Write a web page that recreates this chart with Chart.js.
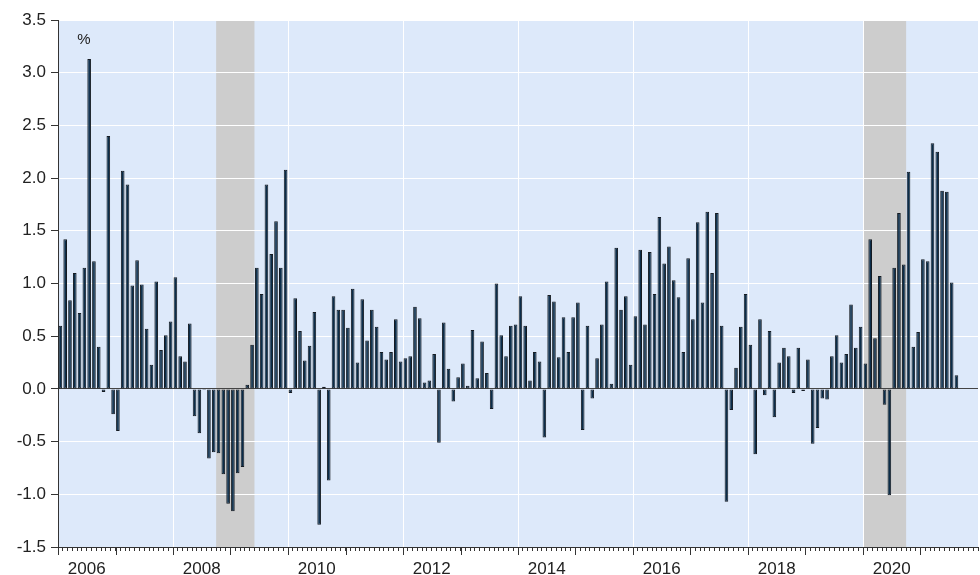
<!DOCTYPE html>
<html>
<head>
<meta charset="utf-8">
<script src="https://cdn.jsdelivr.net/npm/chart.js@4.4.1/dist/chart.umd.min.js"></script>
<style>
  html, body { margin: 0; padding: 0; background: #fff; }
  #wrap { width: 980px; height: 575px; position: relative; }
</style>
</head>
<body>
<div id="wrap"><canvas id="grafica"></canvas></div>
<script>
// Variacion mensual (%), ene-2006 a ago-2021, con periodos de recesion sombreados

const firstYear = 2006;
const lastYear = 2021;
const yearLabels = ['2006', '2008', '2010', '2012', '2014', '2016', '2018', '2020'];
const yMin = -1.5;
const yMax = 3.5;
const yStep = 0.5;

const values = [
  0.60, 1.42, 0.84, 1.10, 0.72, 1.15, 3.13, 1.21, 0.40, -0.03, 2.40, -0.24,
  -0.40, 2.07, 1.94, 0.98, 1.22, 0.99, 0.57, 0.23, 1.02, 0.37, 0.51, 0.64,
  1.06, 0.31, 0.26, 0.62, -0.26, -0.42, -0.01, -0.66, -0.60, -0.61, -0.81, -1.09,
  -1.16, -0.80, -0.74, 0.04, 0.42, 1.15, 0.90, 1.94, 1.28, 1.59, 1.15, 2.08,
  -0.04, 0.86, 0.55, 0.27, 0.41, 0.73, -1.29, 0.02, -0.87, 0.88, 0.75, 0.75,
  0.58, 0.95, 0.25, 0.85, 0.46, 0.75, 0.59, 0.35, 0.28, 0.35, 0.66, 0.26,
  0.29, 0.31, 0.78, 0.67, 0.06, 0.08, 0.33, -0.51, 0.63, 0.19, -0.12, 0.11,
  0.24, 0.03, 0.56, 0.10, 0.45, 0.15, -0.19, 1.00, 0.51, 0.31, 0.60, 0.61,
  0.88, 0.60, 0.08, 0.35, 0.26, -0.46, 0.89, 0.83, 0.30, 0.68, 0.35, 0.68,
  0.82, -0.39, 0.60, -0.09, 0.29, 0.61, 1.02, 0.05, 1.34, 0.75, 0.88, 0.23,
  0.69, 1.32, 0.61, 1.30, 0.90, 1.63, 1.19, 1.35, 1.03, 0.87, 0.35, 1.24,
  0.66, 1.58, 0.82, 1.68, 1.10, 1.67, 0.60, -1.07, -0.20, 0.20, 0.59, 0.90,
  0.42, -0.62, 0.66, -0.06, 0.55, -0.27, 0.25, 0.39, 0.31, -0.04, 0.39, -0.02,
  0.28, -0.52, -0.37, -0.09, -0.10, 0.31, 0.51, 0.25, 0.33, 0.80, 0.39, 0.59,
  0.24, 1.42, 0.48, 1.07, -0.15, -1.01, 1.15, 1.67, 1.18, 2.06, 0.40, 0.54,
  1.23, 1.21, 2.33, 2.25, 1.88, 1.87, 1.01, 0.13
];

const recessionStart = ['2008-10', '2020-01'];
const recessionEnd = ['2009-05', '2020-09'];

// etiquetas mensuales del eje
const months = [];
for (let y = firstYear; y <= lastYear; y++) {
  for (let m = 1; m <= 12; m++) {
    months.push(y + '-' + String(m).padStart(2, '0'));
  }
}

Chart.defaults.font.family = '"Liberation Sans", Arial, sans-serif';
Chart.defaults.font.size = 17;
Chart.defaults.color = '#222';

const AXIS = '#333';

// fondo azul y sombreado de recesiones (antes de la rejilla)
const fondo = {
  id: 'fondo',
  beforeDraw(chart) {
    const ctx = chart.ctx;
    const a = chart.chartArea;
    const x = chart.scales.x;
    const half = (x.getPixelForValue(1) - x.getPixelForValue(0)) / 2;
    ctx.save();
    ctx.fillStyle = '#dde9fa';
    ctx.fillRect(a.left, a.top, a.right - a.left, a.bottom - a.top);
    ctx.fillStyle = '#cdcdcd';
    for (let i = 0; i < recessionStart.length; i++) {
      const x0 = x.getPixelForValue(months.indexOf(recessionStart[i])) - half;
      const x1 = x.getPixelForValue(months.indexOf(recessionEnd[i])) + half;
      ctx.fillRect(x0, a.top, x1 - x0, a.bottom - a.top);
    }
    ctx.restore();
  },
  afterDraw(chart) {
    const ctx = chart.ctx;
    const a = chart.chartArea;
    const x = chart.scales.x;
    const half = (x.getPixelForValue(1) - x.getPixelForValue(0)) / 2;
    ctx.save();
    // marcas largas al inicio de cada año
    ctx.strokeStyle = AXIS;
    ctx.lineWidth = 1;
    ctx.beginPath();
    months.forEach((m, i) => {
      if (m.endsWith('-01')) {
        const px = Math.round(x.getPixelForValue(i) - half) + 0.5;
        ctx.moveTo(px, a.bottom);
        ctx.lineTo(px, a.bottom + 8);
      }
    });
    ctx.stroke();
    // unidad
    ctx.fillStyle = '#222';
    ctx.font = '15px "Liberation Sans", Arial, sans-serif';
    ctx.textAlign = 'center';
    ctx.textBaseline = 'middle';
    ctx.fillText('%', a.left + 26, a.top + 20);
    ctx.restore();
  }
};

const ctx = document.getElementById('grafica').getContext('2d');
const graf = new Chart(ctx, {
  type: 'bar',
  data: {
    labels: months,
    datasets: [{
      data: values,
      backgroundColor: '#0b2d4a',
      borderColor: '#151b22',
      borderWidth: 1,
      borderSkipped: false,
      barPercentage: 0.76,
      categoryPercentage: 1.0
    }]
  },
  options: {
    responsive: true,
    maintainAspectRatio: false,
    animation: false,
    layout: { padding: { top: 20, right: 2, left: 0, bottom: 0 } },
    plugins: {
      legend: { display: false },
      tooltip: { enabled: false }
    },
    scales: {
      x: {
        type: 'category',
        offset: true,
        afterFit(scale) {
          scale.height = 28;
          scale.paddingLeft = 0;
          scale.paddingRight = 0;
        },
        grid: {
          offset: true,
          drawOnChartArea: true,
          tickLength: 4,
          lineWidth: 1,
          color(c) {
            const m = months[c.index];
            if (m && c.index > 0 && m.endsWith('-01') && (+m.slice(0, 4)) % 2 === 0) return '#ffffff';
            return 'rgba(0,0,0,0)';
          },
          tickColor: AXIS
        },
        border: { display: true, color: AXIS, width: 1 },
        ticks: {
          autoSkip: false,
          maxRotation: 0,
          minRotation: 0,
          padding: 8,
          labelOffset: 2.4,
          callback(val, i) {
            const m = months[i];
            const y = m.slice(0, 4);
            return (m.endsWith('-06') && yearLabels.includes(y)) ? y : '';
          }
        }
      },
      y: {
        min: yMin,
        max: yMax,
        afterFit(scale) { scale.width = 58; },
        grid: {
          color(c) { return c.tick.value === 0 ? '#444' : '#ffffff'; },
          lineWidth: 1,
          tickLength: 7,
          tickColor: AXIS
        },
        border: { display: true, color: AXIS, width: 1 },
        ticks: {
          stepSize: yStep,
          padding: 5,
          callback(v) { return v.toFixed(1); }
        }
      }
    }
  },
  plugins: [fondo]
});
</script>
</body>
</html>
